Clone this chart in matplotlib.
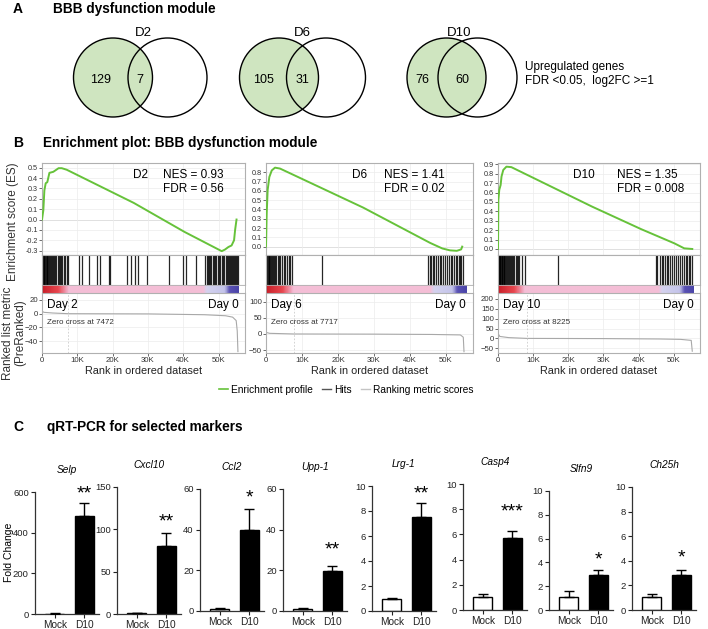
import matplotlib
matplotlib.use("Agg")
import numpy as np
import matplotlib.pyplot as plt
from matplotlib.patches import Circle
from matplotlib.colors import LinearSegmentedColormap
from matplotlib.lines import Line2D

plt.rcParams["font.family"] = ["Liberation Sans", "DejaVu Sans"]

W, H = 708, 629

# ---------------- A: Venn counts
venn_days = ["D2", "D6", "D10"]
only_module = [129, 105, 76]
shared = [7, 31, 60]

# ---------------- B: GSEA (ranks in thousands)
gsea_days = ["D2", "D6", "D10"]
day_labels = ["Day 2", "Day 6", "Day 10"]
nes = ["0.93", "1.41", "1.35"]
fdr = ["0.56", "0.02", "0.008"]
zero_cross = [7472, 7717, 8225]

es_rank_d2 = [0, 0.38, 0.67, 1.05, 1.5, 2.1, 3.2, 4.7, 5.6, 7.0, 26.0, 40.4, 50.9, 51.8, 52.8, 53.7, 54.4, 54.7, 55.1]
es_d2 = [0, 0.09, 0.28, 0.35, 0.36, 0.45, 0.46, 0.495, 0.495, 0.48, 0.16, -0.12, -0.305, -0.29, -0.265, -0.25, -0.2, -0.10, 0.0]
es_rank_d6 = [0, 0.2, 0.46, 0.93, 1.6, 2.5, 3.9, 27.0, 45.6, 49.0, 51.1, 53.0, 54.2, 54.5]
es_d6 = [0, 0.36, 0.61, 0.75, 0.82, 0.85, 0.84, 0.42, 0.04, -0.02, -0.04, -0.045, -0.03, 0.0]
es_rank_d10 = [0, 0.1, 0.37, 0.75, 1.0, 1.5, 2.4, 3.8, 26.8, 40.8, 50.2, 53.0, 55.3]
es_d10 = [0, 0.52, 0.63, 0.68, 0.77, 0.84, 0.875, 0.87, 0.45, 0.21, 0.06, 0.007, 0.0]

hits_d2 = [0.1, 0.3, 0.5, 0.7, 0.9, 1.1, 1.3, 1.5, 1.8, 2.0, 2.3, 2.6, 2.8, 3.1, 3.4, 3.7, 4.0, 4.4,
           4.7, 5.0, 5.4, 5.8, 6.2, 6.6, 7.0, 7.3,
           10.6, 11.3, 13.2, 15.6, 16.3, 18.9, 19.4, 24.0, 25.3, 26.3, 27.2, 29.6, 36.1, 39.9, 40.9, 43.7,
           46.3, 46.6, 46.9, 47.3, 47.6, 48.0, 48.3, 48.7, 49.0, 49.4, 49.8, 50.1, 50.5, 50.9, 51.2,
           51.6, 52.0, 52.3, 52.7, 53.0, 53.3, 53.6, 53.9, 54.2, 54.5, 54.8, 55.0, 55.2, 55.4]
hits_d6 = [0.1, 0.3, 0.5, 0.7, 0.9, 1.1, 1.3, 1.6, 1.9, 2.2, 2.5, 2.8, 3.2, 3.6, 4.0, 4.4, 4.9, 5.3,
           5.8, 6.3, 6.8, 7.1, 15.5,
           45.1, 45.5, 45.9, 46.4, 46.8, 47.3, 47.8, 48.2, 48.7, 49.3, 49.8, 50.3, 50.8, 51.3, 51.8,
           52.3, 52.7, 53.1, 53.5, 53.9, 54.3, 54.6]
hits_d10 = [0.05, 0.2, 0.35, 0.5, 0.65, 0.8, 1.0, 1.2, 1.4, 1.6, 1.8, 2.0, 2.2, 2.5, 2.8, 3.1, 3.4,
            3.7, 4.0, 4.3, 4.6, 5.0, 5.3, 5.7, 6.1, 6.9, 7.6, 17.2,
            45.0, 45.4, 46.2, 46.6, 47.0, 47.5, 48.0, 48.5, 49.0, 49.6, 50.2, 50.7, 51.2, 51.8, 52.4,
            52.9, 53.4, 53.8, 54.3, 54.7, 55.1]

rm_rank_d2 = [0, 0.5, 3, 7.47, 30, 46, 52, 54, 55, 55.3, 55.5]
rm_d2 = [4, 2, 1, 0, -0.3, -1.5, -3, -5, -10, -25, -55]
rm_rank_d6 = [0, 1, 7.7, 30, 46, 54, 54.8, 55.0]
rm_d6 = [5, 2, 0, -0.5, -1.5, -3, -10, -55]
rm_rank_d10 = [0, 0.5, 3, 8.2, 30, 46, 52, 55, 55.3]
rm_d10 = [25, 10, 4, 0, -1, -3, -5, -10, -65]

es_ticks = [np.arange(-0.3, 0.51, 0.1), np.arange(0, 0.81, 0.1), np.arange(0, 0.91, 0.1)]
rm_ticks = [[20, 0, -20, -40], [100, 50, 0, -50], [200, 150, 100, 50, 0, -50]]

# ---------------- C: qRT-PCR
genes = ["Selp", "Cxcl10", "Ccl2", "Upp-1", "Lrg-1", "Casp4", "Slfn9", "Ch25h"]
groups = ["Mock", "D10"]
mock_mean = [1, 1, 1.2, 1, 1.0, 1.05, 1.1, 1.05]
mock_err = [4, 0.5, 0.4, 0.4, 0.03, 0.2, 0.5, 0.27]
d10_mean = [480, 80, 40, 19.5, 7.55, 5.75, 2.95, 2.85]
d10_err = [65, 16, 10, 2.7, 1.1, 0.55, 0.4, 0.4]
stars = ["**", "**", "*", "**", "**", "***", "*", "*"]
star_y = [590, 109, 55.6, 30, 9.4, 7.8, 4.2, 4.2]
y_max = [600, 150, 60, 60, 10, 10, 10, 10]
y_step = [200, 50, 20, 20, 2, 2, 2, 2]


def box(l, t, r, b):
    return [l / W, 1 - b / H, (r - l) / W, (b - t) / H]


def ftext(x, y, s, **kw):
    fig.text(x / W, 1 - y / H, s, **kw)


fig = plt.figure(figsize=(W / 100, H / 100), dpi=100)

# ================= Panel A
ftext(13, 9, "A", fontsize=10, fontweight="bold", va="center")
ftext(53, 9, "BBB dysfunction module", fontsize=9.8, fontweight="bold", va="center")

axA = fig.add_axes(box(0, 0, W, 130))
axA.set_xlim(0, W)
axA.set_ylim(130, 0)
axA.axis("off")
green_cx = [113, 279, 446.5]
offsets = [54.5, 47, 31]
label_x = [143, 302, 459]
r = 39.5
cy = 77.5
for i in range(3):
    gx = green_cx[i]
    wx = gx + offsets[i]
    axA.add_patch(Circle((gx, cy), r, facecolor="#cfe5c0", edgecolor="black", lw=1))
    axA.add_patch(Circle((wx, cy), r, facecolor="none", edgecolor="black", lw=1))
    axA.text(label_x[i], 33, venn_days[i], fontsize=9.5, ha="center", va="center")
    left_mid = (gx - r + wx - r) / 2
    ov_mid = (wx - r + gx + r) / 2
    axA.text(left_mid, 80, str(only_module[i]), fontsize=9, ha="center", va="center")
    axA.text(ov_mid, 80, str(shared[i]), fontsize=9, ha="center", va="center")
axA.text(525, 67, "Upregulated genes", fontsize=8.5, va="center")
axA.text(525, 81, "FDR <0.05,  log2FC >=1", fontsize=8.5, va="center")

# ================= Panel B
ftext(13, 143, "B", fontsize=10, fontweight="bold", va="center")
ftext(43, 143, "Enrichment plot: BBB dysfunction module", fontsize=9.8, fontweight="bold", va="center")

lefts = [42, 266, 498]
rights = [245, 473, 700]
es_lims = [(-0.342, 0.545), (-0.09, 0.9), (-0.064, 0.914)]
rm_lims = [(-57, 30), (-59, 127), (-74, 230)]
day_x = [0.45, 0.415, 0.37]
nes_x = [0.596, 0.57, 0.59]
es_ranks = [es_rank_d2, es_rank_d6, es_rank_d10]
es_vals = [es_d2, es_d6, es_d10]
hits = [hits_d2, hits_d6, hits_d10]
rm_ranks = [rm_rank_d2, rm_rank_d6, rm_rank_d10]
rm_vals = [rm_d2, rm_d6, rm_d10]
xmax = 57.5
n_genes = 55.6
frame = "#b0b0b0"
grid_c = "#ececec"

bar_cmap = LinearSegmentedColormap.from_list(
    "rb", [(0.0, "#c8202a"), (0.08, "#e8474f"), (0.125, "#f0a8c0"), (0.135, "#f4bed6"),
           (0.82, "#f4bed6"), (0.84, "#d4d2ee"), (0.93, "#c4c4ea"), (0.955, "#5a52b4"), (1.0, "#4a44a8")])

for i in range(3):
    l, rr = lefts[i], rights[i]
    # ES
    ax = fig.add_axes(box(l, 163, rr, 255))
    ax.plot(es_ranks[i], es_vals[i], color="#66c23a", lw=1.4, zorder=3)
    ax.axhline(0, color="#bbbbbb", lw=0.6, zorder=1)
    ax.set_xlim(0, xmax)
    ax.set_ylim(*es_lims[i])
    ax.set_yticks(es_ticks[i])
    ax.set_yticklabels([f"{v:.1f}" for v in es_ticks[i]])
    ax.set_xticks(np.arange(0, 51, 10))
    ax.tick_params(axis="x", length=0, labelbottom=False)
    ax.tick_params(axis="y", length=2, pad=1, labelsize=5.2, colors="#333333", width=0.5)
    ax.grid(True, color=grid_c, lw=0.5, zorder=0)
    for s in ax.spines.values():
        s.set_color(frame)
        s.set_linewidth(0.8)
    ax.text(day_x[i], 0.87, gsea_days[i], transform=ax.transAxes, fontsize=8.5, va="center")
    ax.text(nes_x[i], 0.87, f"NES = {nes[i]}", transform=ax.transAxes, fontsize=8.5, va="center")
    ax.text(nes_x[i], 0.72, f"FDR = {fdr[i]}", transform=ax.transAxes, fontsize=8.5, va="center")

    # Hits
    axh = fig.add_axes(box(l, 255, rr, 285))
    axh.vlines(hits[i], 0, 1, color="black", lw=0.9, alpha=0.85)
    axh.set_xlim(0, xmax)
    axh.set_ylim(0, 1)
    axh.set_xticks([])
    axh.set_yticks([])
    for s in axh.spines.values():
        s.set_color(frame)
        s.set_linewidth(0.8)

    # colour bar of ranked list
    axc = fig.add_axes(box(l, 285, rr, 293))
    axc.imshow(np.linspace(0, 1, 400)[None, :], aspect="auto", cmap=bar_cmap,
               extent=(0, n_genes, 0, 1))
    axc.set_xlim(0, xmax)
    axc.set_ylim(0, 1)
    axc.set_xticks([])
    axc.set_yticks([])
    for s in axc.spines.values():
        s.set_color(frame)
        s.set_linewidth(0.6)

    # Ranked list metric
    axr = fig.add_axes(box(l, 293, rr, 353))
    axr.plot(rm_ranks[i], rm_vals[i], color="#a8a8a8", lw=0.8)
    axr.axvline(zero_cross[i] / 1000, color="#cccccc", lw=0.6, ls=(0, (2, 2)))
    axr.set_xlim(0, xmax)
    axr.set_ylim(*rm_lims[i])
    axr.set_yticks(rm_ticks[i])
    axr.set_xticks(np.arange(0, 51, 10))
    axr.set_xticklabels(["0"] + [f"{v}K" for v in range(10, 51, 10)])
    axr.tick_params(length=2, pad=1, labelsize=5.6, colors="#333333", width=0.5)
    axr.grid(True, color=grid_c, lw=0.5, zorder=0)
    for s in axr.spines.values():
        s.set_color(frame)
        s.set_linewidth(0.8)
    axr.text(0.025, 0.8, day_labels[i], transform=axr.transAxes, fontsize=8.5, va="center")
    axr.text(n_genes, rm_lims[i][0] + 0.8 * (rm_lims[i][1] - rm_lims[i][0]), "Day 0",
             fontsize=8.5, va="center", ha="right")
    axr.text(0.025, 0.5, f"Zero cross at {zero_cross[i]}", transform=axr.transAxes,
             fontsize=5.8, va="center", color="#333333")
    axr.set_xlabel("Rank in ordered dataset", fontsize=7.8, labelpad=1, color="#222222")

ftext(13, 222, "Enrichment score (ES)", fontsize=8.5, rotation=90, ha="center", va="center",
      color="#333333")
ftext(14, 333, "Ranked list metric\n(PreRanked)", fontsize=8.5, rotation=90, ha="center",
      va="center", linespacing=1.0, color="#333333")

handles = [Line2D([], [], color="#66c23a", lw=1.2),
           Line2D([], [], color="#555555", lw=1.0),
           Line2D([], [], color="#c4c4c4", lw=1.0)]
fig.legend(handles, ["Enrichment profile", "Hits", "Ranking metric scores"],
           loc="center", bbox_to_anchor=(346 / W, 1 - 390 / H), ncol=3, frameon=False,
           fontsize=7.3, handlelength=0.9, handletextpad=0.3, columnspacing=0.9)

# ================= Panel C
ftext(13, 427, "C", fontsize=10, fontweight="bold", va="center")
ftext(47, 427, "qRT-PCR for selected markers", fontsize=9.8, fontweight="bold", va="center")

bar_left = [35, 117, 200, 283, 372, 463, 549, 632]
bar_top = [492, 487, 489, 489, 486, 484, 491, 487]
bar_bottom = [614, 614, 611, 611, 611, 610, 610, 610]
ax_w = 64

for i, g in enumerate(genes):
    ax = fig.add_axes(box(bar_left[i], bar_top[i], bar_left[i] + ax_w, bar_bottom[i]))
    x = [0, 1]
    ax.bar(x, [mock_mean[i], d10_mean[i]], width=0.64, color=["white", "black"],
           edgecolor="black", lw=1, zorder=2)
    ax.errorbar(x, [mock_mean[i], d10_mean[i]],
                yerr=[[0, 0], [mock_err[i], d10_err[i]]], fmt="none", ecolor="black",
                elinewidth=1, capsize=3.5, capthick=1, zorder=3)
    ax.text(1, star_y[i], stars[i], fontsize=14, ha="center", va="center")
    ax.set_xlim(-0.667, 1.5)
    ax.set_ylim(0, y_max[i])
    ax.set_yticks(np.arange(0, y_max[i] + 0.01, y_step[i]))
    ax.set_xticks(x)
    ax.set_xticklabels(groups)
    ax.tick_params(axis="y", length=3, width=0.8, labelsize=6.8, pad=1.5, colors="#222222")
    ax.tick_params(axis="x", length=3, width=0.8, labelsize=7.3, pad=1.5, colors="#222222")
    ax.spines["top"].set_visible(False)
    ax.spines["right"].set_visible(False)
    for s in ("left", "bottom"):
        ax.spines[s].set_linewidth(0.9)
        ax.spines[s].set_color("#333333")
    ax.annotate(g, xy=(0.5, 1), xycoords="axes fraction", xytext=(0, 15.5),
                textcoords="offset points", ha="center", va="center", fontsize=7.3,
                style="italic")

ftext(9, 552, "Fold Change", fontsize=7.5, rotation=90, ha="center", va="center")

fig.savefig("out.png", dpi=100)
